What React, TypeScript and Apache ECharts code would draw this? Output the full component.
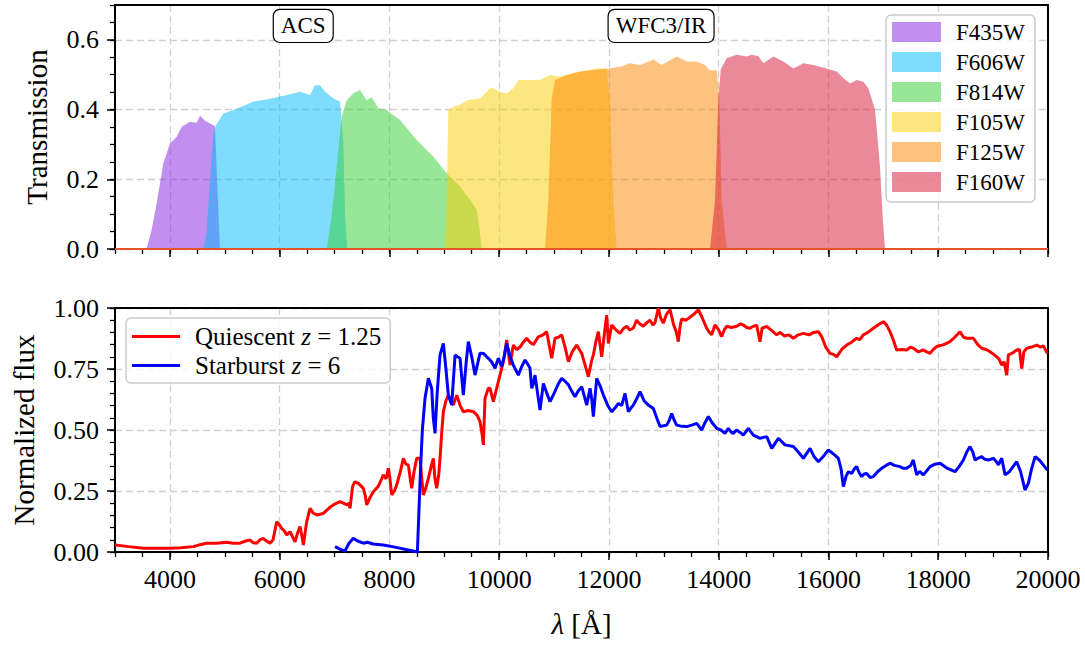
import React, { useEffect, useRef } from "react";
import * as echarts from "echarts";

// ---- Filter transmission curves (wavelength in Å, throughput) ----
const f435wWave = [3540, 3577, 3668, 3759, 3881, 4002, 4124, 4215, 4367, 4488, 4549, 4640, 4731, 4822, 4860, 4913];
const f435wTrans = [0, 0.002, 0.055, 0.131, 0.246, 0.303, 0.322, 0.351, 0.365, 0.362, 0.382, 0.368, 0.36, 0.353, 0.2, 0];

const f606wWave = [4610, 4671, 4731, 4792, 4840, 4974, 5155, 5338, 5520, 5763, 5945, 6128, 6371, 6553, 6644, 6735, 6826, 6978, 7100, 7161, 7191, 7233];
const f606wTrans = [0, 0.05, 0.2, 0.33, 0.355, 0.389, 0.399, 0.41, 0.423, 0.429, 0.435, 0.442, 0.451, 0.442, 0.47, 0.47, 0.451, 0.432, 0.423, 0.3, 0.1, 0];

const f814wWave = [6857, 6948, 7040, 7131, 7222, 7343, 7465, 7586, 7677, 7799, 7950, 8193, 8497, 8801, 9044, 9287, 9469, 9590, 9639, 9681];
const f814wTrans = [0, 0.093, 0.236, 0.38, 0.427, 0.447, 0.456, 0.427, 0.435, 0.404, 0.399, 0.37, 0.313, 0.265, 0.217, 0.179, 0.141, 0.112, 0.063, 0];

const f105wWave = [9013, 9044, 9074, 9165, 9287, 9408, 9651, 9833, 9894, 10015, 10137, 10258, 10350, 10562, 10744, 10927, 11109, 11473, 11777, 11959, 12020, 12081, 12141];
const f105wTrans = [0, 0.141, 0.399, 0.408, 0.414, 0.427, 0.432, 0.461, 0.461, 0.451, 0.446, 0.461, 0.485, 0.485, 0.485, 0.499, 0.495, 0.509, 0.518, 0.518, 0.42, 0.14, 0];

const f125wWave = [10835, 10896, 10957, 11018, 11230, 11473, 11777, 11990, 12202, 12384, 12567, 12810, 12961, 13235, 13417, 13599, 13751, 13842, 13964, 14012, 14055, 14146];
const f125wTrans = [0, 0.14, 0.43, 0.485, 0.499, 0.509, 0.514, 0.518, 0.523, 0.533, 0.528, 0.544, 0.528, 0.552, 0.538, 0.538, 0.528, 0.512, 0.513, 0.43, 0.14, 0];

const f160wWave = [13842, 13933, 13994, 14037, 14146, 14328, 14510, 14601, 14723, 14814, 14996, 15179, 15361, 15543, 15725, 15968, 16150, 16272, 16393, 16515, 16636, 16727, 16849, 16939, 16987, 17030];
const f160wTrans = [0, 0.14, 0.43, 0.515, 0.547, 0.557, 0.552, 0.557, 0.553, 0.533, 0.552, 0.538, 0.518, 0.533, 0.528, 0.518, 0.509, 0.49, 0.475, 0.485, 0.48, 0.461, 0.399, 0.236, 0.093, 0];

const filterNames = ["F435W", "F606W", "F814W", "F105W", "F125W", "F160W"];
const filterColors = [
  "rgba(129,31,225,0.5)",
  "rgba(1,185,249,0.5)",
  "rgba(49,205,49,0.5)",
  "rgba(251,205,0,0.5)",
  "rgba(251,133,0,0.5)",
  "rgba(215,19,55,0.5)",
];
const filterWaves = [f435wWave, f606wWave, f814wWave, f105wWave, f125wWave, f160wWave];
const filterTrans = [f435wTrans, f606wTrans, f814wTrans, f105wTrans, f125wTrans, f160wTrans];

// ---- Template spectra (wavelength in Å, normalized flux) ----
const quiescentWave = [3000, 3250, 3516, 3750, 4002, 4200, 4427, 4550, 4670, 4850, 5035, 5150, 5278, 5380, 5460, 5520, 5582, 5640, 5703, 5760, 5824, 5880, 5946, 6000, 6037, 6090, 6128, 6189, 6240, 6280, 6330, 6371, 6410, 6432, 6490, 6553, 6610, 6675, 6796, 6900, 6978, 7040, 7100, 7160, 7222, 7260, 7282, 7330, 7373, 7440, 7525, 7560, 7586, 7640, 7707, 7800, 7890, 7940, 7981, 8010, 8041, 8090, 8133, 8200, 8254, 8300, 8345, 8380, 8406, 8450, 8497, 8558, 8590, 8618, 8660, 8710, 8760, 8801, 8830, 8862, 8900, 8922, 8950, 8983, 9030, 9074, 9120, 9165, 9226, 9290, 9347, 9440, 9530, 9600, 9651, 9690, 9712, 9742, 9800, 9833, 9894, 9985, 10076, 10137, 10198, 10258, 10320, 10380, 10440, 10501, 10560, 10623, 10714, 10800, 10866, 10910, 10957, 11018, 11080, 11140, 11200, 11261, 11330, 11413, 11460, 11504, 11560, 11625, 11680, 11716, 11760, 11807, 11868, 11920, 11960, 11990, 12050, 12130, 12202, 12260, 12323, 12380, 12445, 12505, 12560, 12627, 12690, 12748, 12800, 12839, 12900, 12940, 12991, 13050, 13113, 13180, 13230, 13264, 13300, 13326, 13400, 13477, 13550, 13629, 13700, 13781, 13830, 13872, 13933, 14000, 14054, 14100, 14145, 14230, 14327, 14400, 14449, 14510, 14570, 14630, 14692, 14753, 14790, 14874, 14950, 15056, 15120, 15200, 15280, 15360, 15450, 15542, 15650, 15730, 15815, 15876, 15950, 16028, 16090, 16150, 16240, 16332, 16420, 16514, 16570, 16635, 16720, 16817, 16900, 16999, 17060, 17121, 17180, 17242, 17330, 17424, 17500, 17546, 17640, 17728, 17790, 17850, 17910, 17971, 18100, 18215, 18300, 18397, 18460, 18518, 18640, 18720, 18792, 18870, 18944, 19010, 19065, 19110, 19157, 19200, 19248, 19278, 19350, 19430, 19480, 19522, 19560, 19613, 19700, 19795, 19860, 19917, 19988];
const quiescentFlux = [0.029, 0.022, 0.015, 0.015, 0.015, 0.017, 0.022, 0.03, 0.036, 0.036, 0.04, 0.036, 0.036, 0.045, 0.049, 0.038, 0.036, 0.05, 0.056, 0.045, 0.036, 0.05, 0.124, 0.11, 0.097, 0.085, 0.07, 0.083, 0.06, 0.042, 0.08, 0.104, 0.06, 0.029, 0.12, 0.179, 0.16, 0.152, 0.158, 0.18, 0.193, 0.2, 0.206, 0.2, 0.193, 0.2, 0.179, 0.27, 0.288, 0.28, 0.261, 0.23, 0.193, 0.22, 0.247, 0.27, 0.316, 0.3, 0.343, 0.3, 0.234, 0.25, 0.275, 0.33, 0.384, 0.36, 0.357, 0.3, 0.261, 0.33, 0.384, 0.384, 0.3, 0.234, 0.26, 0.302, 0.35, 0.384, 0.3, 0.261, 0.32, 0.384, 0.48, 0.575, 0.62, 0.643, 0.62, 0.602, 0.643, 0.6, 0.575, 0.58, 0.575, 0.56, 0.534, 0.48, 0.439, 0.63, 0.67, 0.671, 0.616, 0.698, 0.78, 0.869, 0.766, 0.848, 0.83, 0.84, 0.86, 0.876, 0.86, 0.85, 0.882, 0.89, 0.903, 0.85, 0.794, 0.876, 0.88, 0.89, 0.84, 0.78, 0.82, 0.848, 0.83, 0.814, 0.77, 0.718, 0.78, 0.808, 0.86, 0.903, 0.8, 0.9, 0.971, 0.855, 0.93, 0.91, 0.896, 0.915, 0.925, 0.91, 0.918, 0.95, 0.935, 0.925, 0.94, 0.95, 0.93, 0.94, 0.999, 0.96, 0.938, 0.975, 0.993, 0.93, 0.9, 0.862, 0.93, 0.955, 0.95, 0.962, 0.975, 0.993, 0.96, 0.917, 0.9, 0.89, 0.931, 0.91, 0.883, 0.91, 0.925, 0.92, 0.925, 0.935, 0.93, 0.92, 0.917, 0.925, 0.93, 0.862, 0.917, 0.925, 0.91, 0.89, 0.9, 0.885, 0.89, 0.876, 0.89, 0.896, 0.89, 0.9, 0.903, 0.883, 0.84, 0.814, 0.81, 0.8, 0.83, 0.848, 0.86, 0.876, 0.87, 0.89, 0.9, 0.917, 0.93, 0.944, 0.93, 0.903, 0.87, 0.828, 0.83, 0.828, 0.84, 0.835, 0.82, 0.828, 0.82, 0.814, 0.83, 0.842, 0.85, 0.862, 0.88, 0.903, 0.88, 0.876, 0.876, 0.85, 0.835, 0.83, 0.821, 0.81, 0.8, 0.79, 0.766, 0.78, 0.725, 0.808, 0.815, 0.828, 0.83, 0.752, 0.82, 0.835, 0.84, 0.848, 0.84, 0.845, 0.814];

const starburstWave = [7009, 7100, 7191, 7260, 7343, 7420, 7525, 7600, 7700, 7890, 8100, 8300, 8497, 8510, 8560, 8600, 8649, 8710, 8771, 8800, 8831, 8870, 8922, 8983, 9030, 9074, 9135, 9196, 9240, 9287, 9347, 9400, 9438, 9500, 9560, 9651, 9712, 9773, 9803, 9860, 9925, 9985, 10046, 10090, 10137, 10200, 10258, 10349, 10410, 10471, 10520, 10562, 10593, 10623, 10653, 10700, 10744, 10805, 10870, 10927, 11000, 11080, 11140, 11200, 11261, 11320, 11382, 11440, 11504, 11550, 11595, 11656, 11690, 11716, 11777, 11840, 11899, 11980, 12050, 12110, 12172, 12232, 12293, 12354, 12400, 12445, 12510, 12566, 12640, 12718, 12809, 12870, 12930, 13052, 13100, 13143, 13190, 13234, 13330, 13416, 13510, 13599, 13690, 13750, 13812, 13880, 13964, 14040, 14115, 14176, 14230, 14267, 14327, 14390, 14449, 14540, 14631, 14753, 14875, 14966, 15087, 15208, 15360, 15450, 15542, 15664, 15740, 15816, 15900, 15998, 16100, 16180, 16230, 16271, 16320, 16362, 16423, 16470, 16514, 16560, 16605, 16650, 16696, 16760, 16817, 16900, 16969, 17050, 17121, 17200, 17303, 17360, 17424, 17500, 17546, 17607, 17660, 17728, 17800, 17850, 17940, 18033, 18150, 18306, 18380, 18458, 18520, 18579, 18630, 18670, 18730, 18792, 18850, 18913, 19005, 19060, 19096, 19157, 19218, 19300, 19430, 19500, 19582, 19643, 19700, 19765, 19850, 19920, 19988];
const starburstFlux = [0.022, 0.012, 0.004, 0.035, 0.056, 0.045, 0.036, 0.04, 0.033, 0.029, 0.02, 0.01, 0.001, 0.001, 0.3, 0.5, 0.63, 0.712, 0.67, 0.55, 0.486, 0.65, 0.807, 0.855, 0.75, 0.643, 0.602, 0.807, 0.8, 0.794, 0.643, 0.78, 0.862, 0.8, 0.725, 0.815, 0.814, 0.8, 0.794, 0.78, 0.753, 0.794, 0.76, 0.8, 0.855, 0.8, 0.766, 0.725, 0.76, 0.787, 0.77, 0.753, 0.671, 0.69, 0.725, 0.65, 0.582, 0.691, 0.65, 0.616, 0.65, 0.69, 0.712, 0.7, 0.685, 0.66, 0.636, 0.66, 0.678, 0.64, 0.602, 0.671, 0.62, 0.555, 0.712, 0.68, 0.643, 0.6, 0.575, 0.59, 0.609, 0.6, 0.65, 0.575, 0.59, 0.602, 0.63, 0.657, 0.62, 0.602, 0.588, 0.55, 0.514, 0.52, 0.54, 0.568, 0.54, 0.52, 0.515, 0.514, 0.52, 0.527, 0.5, 0.53, 0.555, 0.53, 0.507, 0.5, 0.486, 0.507, 0.49, 0.486, 0.5, 0.49, 0.479, 0.507, 0.479, 0.466, 0.473, 0.425, 0.466, 0.439, 0.432, 0.41, 0.384, 0.425, 0.39, 0.37, 0.39, 0.418, 0.4, 0.384, 0.34, 0.268, 0.31, 0.329, 0.322, 0.34, 0.35, 0.325, 0.309, 0.32, 0.322, 0.305, 0.309, 0.33, 0.343, 0.355, 0.364, 0.355, 0.35, 0.343, 0.343, 0.355, 0.377, 0.316, 0.33, 0.316, 0.335, 0.35, 0.36, 0.364, 0.345, 0.329, 0.35, 0.377, 0.41, 0.432, 0.41, 0.377, 0.385, 0.391, 0.38, 0.377, 0.384, 0.37, 0.357, 0.384, 0.316, 0.33, 0.37, 0.33, 0.254, 0.282, 0.34, 0.391, 0.375, 0.355, 0.336];

// ---- Axes ----
const xMin = 3000;
const xMax = 20000;
const xMajorTicks = [4000, 6000, 8000, 10000, 12000, 14000, 16000, 18000, 20000];
const xLabelStep = 1000;
const xLabelEvery = 2000;
const xMinorStep = 500;
const transMax = 0.7;
const transTicks = [0, 0.2, 0.4, 0.6];
const transStep = 0.2;
const fluxMax = 1;
const fluxTicks = [0, 0.25, 0.5, 0.75, 1];
const fluxStep = 0.25;
const minorYStep = 0.05;

// Instrument labels placed in data coordinates of the upper panel
const instrumentLabels = [
  { text: "ACS", wave: 6430, level: 0.64 },
  { text: "WFC3/IR", wave: 12950, level: 0.64 },
];

const FONT = "Liberation Serif, Times New Roman, serif";
const GRID_LINE = { show: true, lineStyle: { color: "#d0d0d0", type: [7, 4] as any, width: 1.3 } };
const TICK_FONT = { fontFamily: FONT, fontSize: 26, color: "#000" };

const zip = (xs: number[], ys: number[]) => xs.map((x, i) => [x, ys[i]]);

const hidden = {
  axisLine: { show: false, onZero: false },
  axisTick: { show: false },
  splitLine: { show: false },
};

function mainX(gridIndex: number, name?: string) {
  return {
    type: "value",
    gridIndex,
    position: "bottom",
    min: xMin,
    max: xMax,
    name,
    nameLocation: "middle",
    nameGap: 57,
    nameTextStyle: {
      fontFamily: FONT,
      fontSize: 29,
      color: "#000",
      rich: { i: { fontStyle: "italic", fontFamily: FONT, fontSize: 29, color: "#000" } },
    },
    axisLine: { show: true, onZero: false, lineStyle: { color: "#000", width: 2 } },
    axisTick: { show: true, customValues: xMajorTicks, length: 8, lineStyle: { color: "#000", width: 1.5 } },
    axisLabel: { show: false },
    splitLine: GRID_LINE,
  };
}

// Tick-label carrier for the wavelength axis: labels every 2000 Å
function labelX(gridIndex: number) {
  return {
    type: "value",
    gridIndex,
    position: "bottom",
    min: xMin,
    max: xMax,
    interval: xLabelStep,
    ...hidden,
    axisLabel: {
      show: true,
      margin: 14,
      ...TICK_FONT,
      hideOverlap: false,
      formatter: (v: number) => (Math.round(v) % xLabelEvery === 0 ? String(Math.round(v)) : ""),
    },
  };
}

function minorX(gridIndex: number) {
  return {
    type: "value",
    gridIndex,
    position: "bottom",
    min: xMin,
    max: xMax,
    interval: xMinorStep,
    axisLine: { show: false, onZero: false },
    axisTick: { show: true, length: 5, lineStyle: { color: "#000", width: 1.3 } },
    axisLabel: { show: false },
    splitLine: { show: false },
  };
}

function topX(gridIndex: number) {
  return {
    type: "value",
    gridIndex,
    position: "top",
    min: xMin,
    max: xMax,
    axisLine: { show: true, onZero: false, lineStyle: { color: "#000", width: 2 } },
    axisTick: { show: false },
    axisLabel: { show: false },
    splitLine: { show: false },
  };
}

function mainY(gridIndex: number, max: number, ticks: number[], name: string, gap: number) {
  return {
    type: "value",
    gridIndex,
    position: "left",
    min: 0,
    max,
    name,
    nameLocation: "middle",
    nameGap: gap,
    nameRotate: 90,
    nameTextStyle: { fontFamily: FONT, fontSize: 29, color: "#000" },
    axisLine: { show: true, onZero: false, lineStyle: { color: "#000", width: 2 } },
    axisTick: { show: true, customValues: ticks, length: 8, lineStyle: { color: "#000", width: 1.5 } },
    axisLabel: { show: false },
    splitLine: GRID_LINE,
  };
}

// Tick-label carrier for a flux axis
function labelY(gridIndex: number, max: number, step: number, digits: number, lastLabel: number) {
  return {
    type: "value",
    gridIndex,
    position: "left",
    min: 0,
    max,
    interval: step,
    ...hidden,
    axisLabel: {
      show: true,
      margin: 16,
      ...TICK_FONT,
      hideOverlap: false,
      formatter: (v: number) => (v > lastLabel + 1e-9 ? "" : v.toFixed(digits)),
    },
  };
}

function minorY(gridIndex: number, max: number) {
  return {
    type: "value",
    gridIndex,
    position: "left",
    min: 0,
    max,
    interval: minorYStep,
    axisLine: { show: false, onZero: false },
    axisTick: { show: true, length: 5, lineStyle: { color: "#000", width: 1.3 } },
    axisLabel: { show: false },
    splitLine: { show: false },
  };
}

function rightY(gridIndex: number, max: number) {
  return {
    type: "value",
    gridIndex,
    position: "right",
    min: 0,
    max,
    axisLine: { show: true, onZero: false, lineStyle: { color: "#000", width: 2 } },
    axisTick: { show: false },
    axisLabel: { show: false },
    splitLine: { show: false },
  };
}

export default function App() {
  const ref = useRef<HTMLDivElement>(null);

  useEffect(() => {
    if (!ref.current) return;
    const chart = echarts.init(ref.current, undefined, { renderer: "svg" });

    const filterSeries = filterNames.map((name, i) => ({
      name,
      type: "line",
      xAxisIndex: 0,
      yAxisIndex: 0,
      data: zip(filterWaves[i], filterTrans[i]),
      color: filterColors[i],
      showSymbol: false,
      symbol: "none",
      lineStyle: { width: 0 },
      areaStyle: { color: filterColors[i], opacity: 1, origin: "start" },
      silent: true,
      z: 2 + i,
    }));

    const option: any = {
      animation: false,
      backgroundColor: "#fff",
      textStyle: { fontFamily: FONT },
      grid: [
        { left: 115, top: 5, width: 933, height: 244, outerBoundsMode: "none" },
        { left: 115, top: 308, width: 933, height: 244, outerBoundsMode: "none" },
      ],
      xAxis: [
        mainX(0),
        minorX(0),
        topX(0),
        mainX(1, "{i|λ} [Å]"),
        minorX(1),
        topX(1),
        labelX(1),
      ],
      yAxis: [
        mainY(0, transMax, transTicks, "Transmission", 64),
        minorY(0, transMax),
        rightY(0, transMax),
        mainY(1, fluxMax, fluxTicks, "Normalized flux", 77),
        minorY(1, fluxMax),
        rightY(1, fluxMax),
        labelY(0, transMax, transStep, 1, transTicks[transTicks.length - 1]),
        labelY(1, fluxMax, fluxStep, 2, fluxTicks[fluxTicks.length - 1]),
      ],
      legend: [
        {
          data: filterNames,
          orient: "vertical",
          left: 886,
          top: 15,
          icon: "rect",
          itemWidth: 49,
          itemHeight: 20,
          itemGap: 6,
          padding: [5, 10, 8, 6],
          backgroundColor: "rgba(255,255,255,0.8)",
          borderColor: "#cccccc",
          borderWidth: 1.5,
          borderRadius: 5,
          textStyle: { fontFamily: FONT, fontSize: 23, color: "#000", lineHeight: 24, padding: [0, 0, 0, 10] },
        },
        {
          data: ["Quiescent z = 1.25", "Starburst z = 6"],
          orient: "vertical",
          left: 126,
          top: 318,
          icon: "rect",
          itemWidth: 48,
          itemHeight: 3,
          itemGap: 4,
          padding: [6, 9, 5, 6],
          backgroundColor: "rgba(255,255,255,0.8)",
          borderColor: "#cccccc",
          borderWidth: 1.5,
          borderRadius: 5,
          formatter: (name: string) => {
            const [label, rest] = name.split(" z ");
            return `{t|${label} }{i|z}{t| ${rest}}`;
          },
          textStyle: {
            fontFamily: FONT,
            fontSize: 25,
            color: "#000",
            lineHeight: 24,
            padding: [0, 0, 0, 10],
            rich: {
              t: { fontFamily: FONT, fontSize: 25, color: "#000" },
              i: { fontFamily: FONT, fontSize: 25, color: "#000", fontStyle: "italic" },
            },
          },
        },
      ],
      series: [
        ...filterSeries,
        {
          name: "baseline",
          type: "line",
          xAxisIndex: 0,
          yAxisIndex: 0,
          data: [
            [xMin, 0],
            [xMax, 0],
          ],
          showSymbol: false,
          symbol: "none",
          lineStyle: { color: "#e4552a", width: 2 },
          silent: true,
          z: 10,
        },
        {
          name: "Quiescent z = 1.25",
          type: "line",
          xAxisIndex: 3,
          yAxisIndex: 3,
          data: zip(quiescentWave, quiescentFlux),
          color: "#ff0000",
          showSymbol: false,
          symbol: "none",
          lineStyle: { color: "#ff0000", width: 3 },
          z: 3,
        },
        {
          name: "Starburst z = 6",
          type: "line",
          xAxisIndex: 3,
          yAxisIndex: 3,
          data: zip(starburstWave, starburstFlux),
          color: "#0000ff",
          showSymbol: false,
          symbol: "none",
          lineStyle: { color: "#0000ff", width: 3 },
          z: 4,
        },
      ],
    };

    chart.setOption(option);

    const graphics = instrumentLabels.map((lab) => {
      const [px, py] = chart.convertToPixel({ gridIndex: 0 } as any, [lab.wave, lab.level]) as number[];
      return {
        type: "text",
        x: px,
        y: py,
        z: 100,
        style: {
          text: lab.text,
          font: `23px ${FONT}`,
          fill: "#000",
          align: "center",
          verticalAlign: "middle",
          backgroundColor: "#fff",
          borderColor: "#000",
          borderWidth: 1.2,
          borderRadius: 6,
          padding: [5, 7, 4, 7],
        },
      };
    });
    chart.setOption({ graphic: graphics });

    return () => chart.dispose();
  }, []);

  return (
    <div
      ref={ref}
      style={{ position: "fixed", left: 0, top: 0, width: 1085, height: 646, background: "#fff" }}
    />
  );
}
